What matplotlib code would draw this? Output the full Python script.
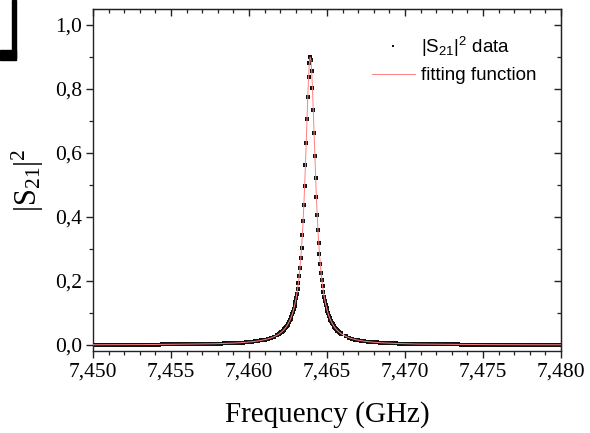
import matplotlib
matplotlib.use("Agg")
import matplotlib.pyplot as plt
from matplotlib.ticker import MultipleLocator, FuncFormatter
from matplotlib.patches import Rectangle

# |S21|^2 transmission data (GHz)
freq_left = [
    7.4500, 7.4502, 7.4504, 7.4506, 7.4508, 7.4510, 7.4512, 7.4514, 7.4516, 7.4518,
    7.4520, 7.4522, 7.4524, 7.4526, 7.4528, 7.4530, 7.4532, 7.4534, 7.4536, 7.4538,
    7.4540, 7.4542, 7.4544, 7.4546, 7.4548, 7.4550, 7.4552, 7.4554, 7.4556, 7.4558,
    7.4560, 7.4562, 7.4564, 7.4566, 7.4568, 7.4570, 7.4572, 7.4574, 7.4576, 7.4578,
    7.4580, 7.4582, 7.4584, 7.4586, 7.4588, 7.4590, 7.4592, 7.4594, 7.4596, 7.4598,
    7.4600, 7.4602, 7.4604, 7.4606, 7.4608, 7.4610, 7.4612, 7.4614, 7.4616, 7.4618,
]
s21_left = [
    0.0007, 0.0008, 0.0008, 0.0008, 0.0008, 0.0009, 0.0009, 0.0009, 0.0009, 0.0010,
    0.0010, 0.0010, 0.0011, 0.0011, 0.0012, 0.0012, 0.0012, 0.0013, 0.0013, 0.0014,
    0.0015, 0.0015, 0.0016, 0.0017, 0.0017, 0.0018, 0.0019, 0.0020, 0.0021, 0.0022,
    0.0023, 0.0024, 0.0025, 0.0027, 0.0028, 0.0030, 0.0032, 0.0034, 0.0036, 0.0038,
    0.0041, 0.0044, 0.0047, 0.0051, 0.0055, 0.0059, 0.0064, 0.0070, 0.0076, 0.0084,
    0.0092, 0.0102, 0.0114, 0.0128, 0.0145, 0.0165, 0.0189, 0.0219, 0.0258, 0.0307,
]
freq_peak = [
    7.46192, 7.46197, 7.46202, 7.46207, 7.46212, 7.46217, 7.46222, 7.46227, 7.46232, 7.46237,
    7.46242, 7.46247, 7.46252, 7.46257, 7.46262, 7.46267, 7.46272, 7.46277, 7.46282, 7.46287,
    7.46292, 7.46297, 7.46302, 7.46307, 7.46312, 7.46317, 7.46322, 7.46327, 7.46332, 7.46337,
    7.46342, 7.46347, 7.46352, 7.46357, 7.46362, 7.46367, 7.46372, 7.46377, 7.46382, 7.46387,
    7.46392, 7.46397, 7.46402, 7.46407, 7.46412, 7.46417, 7.46422, 7.46427, 7.46432, 7.46437,
    7.46442, 7.46447, 7.46452, 7.46457, 7.46462, 7.46467, 7.46472, 7.46477, 7.46482, 7.46487,
    7.46492, 7.46497, 7.46502, 7.46507, 7.46512, 7.46517, 7.46522, 7.46527, 7.46532, 7.46537,
    7.46542, 7.46547, 7.46552, 7.46557, 7.46562, 7.46567, 7.46572, 7.46577, 7.46582, 7.46587,
    7.46592,
]
s21_peak = [
    0.0343, 0.0360, 0.0379, 0.0398, 0.0419, 0.0442, 0.0467, 0.0494, 0.0523, 0.0555,
    0.0590, 0.0628, 0.0670, 0.0717, 0.0767, 0.0824, 0.0887, 0.0956, 0.1034, 0.1122,
    0.1220, 0.1331, 0.1457, 0.1601, 0.1765, 0.1952, 0.2169, 0.2419, 0.2703, 0.3041,
    0.3427, 0.3875, 0.4389, 0.4972, 0.5622, 0.6327, 0.7055, 0.7759, 0.8367, 0.8802,
    0.8994, 0.8911, 0.8566, 0.8018, 0.7343, 0.6618, 0.5899, 0.5225, 0.4614, 0.4072,
    0.3599, 0.3189, 0.2834, 0.2528, 0.2264, 0.2035, 0.1836, 0.1664, 0.1512, 0.1380,
    0.1263, 0.1160, 0.1068, 0.0987, 0.0914, 0.0848, 0.0789, 0.0736, 0.0688, 0.0645,
    0.0605, 0.0569, 0.0536, 0.0505, 0.0477, 0.0452, 0.0428, 0.0406, 0.0386, 0.0367,
    0.0350,
]
freq_right = [
    7.4662, 7.4664, 7.4666, 7.4668, 7.4670, 7.4672, 7.4674, 7.4676, 7.4678, 7.4680,
    7.4682, 7.4684, 7.4686, 7.4688, 7.4690, 7.4692, 7.4694, 7.4696, 7.4698, 7.4700,
    7.4702, 7.4704, 7.4706, 7.4708, 7.4710, 7.4712, 7.4714, 7.4716, 7.4718, 7.4720,
    7.4722, 7.4724, 7.4726, 7.4728, 7.4730, 7.4732, 7.4734, 7.4736, 7.4738, 7.4740,
    7.4742, 7.4744, 7.4746, 7.4748, 7.4750, 7.4752, 7.4754, 7.4756, 7.4758, 7.4760,
    7.4762, 7.4764, 7.4766, 7.4768, 7.4770, 7.4772, 7.4774, 7.4776, 7.4778, 7.4780,
    7.4782, 7.4784, 7.4786, 7.4788, 7.4790, 7.4792, 7.4794, 7.4796, 7.4798, 7.4800,
]
s21_right = [
    0.0271, 0.0230, 0.0198, 0.0171, 0.0150, 0.0133, 0.0118, 0.0106, 0.0095, 0.0086,
    0.0078, 0.0071, 0.0066, 0.0060, 0.0056, 0.0052, 0.0048, 0.0045, 0.0042, 0.0039,
    0.0036, 0.0034, 0.0032, 0.0030, 0.0029, 0.0027, 0.0026, 0.0024, 0.0023, 0.0022,
    0.0021, 0.0020, 0.0019, 0.0018, 0.0017, 0.0017, 0.0016, 0.0015, 0.0015, 0.0014,
    0.0014, 0.0013, 0.0013, 0.0012, 0.0012, 0.0011, 0.0011, 0.0011, 0.0010, 0.0010,
    0.0010, 0.0009, 0.0009, 0.0009, 0.0008, 0.0008, 0.0008, 0.0008, 0.0007, 0.0007,
    0.0007, 0.0007, 0.0007, 0.0007, 0.0006, 0.0006, 0.0006, 0.0006, 0.0006, 0.0006,
]

freq = freq_left + freq_peak + freq_right
s21 = s21_left + s21_peak + s21_right

SERIF = "Liberation Serif"
SANS = "Liberation Sans"
FIT = "#ff8080"

fig = plt.figure(figsize=(5.9, 4.33), dpi=100)
ax = fig.add_axes([0.1576, 0.1885, 0.7932, 0.7907])

ax.plot(freq, s21, "s", ms=2.6, color="#111111", mew=0,
        label=r"$\mathregular{|S_{21}|^2}$ data", zorder=2)
ax.plot(freq, s21, "-", lw=0.7, color=FIT, label="fitting function", zorder=3)

ax.set_xlim(7.450, 7.480)
ax.set_ylim(-0.02, 1.05)
ax.xaxis.set_major_locator(MultipleLocator(0.005))
ax.xaxis.set_minor_locator(MultipleLocator(0.001))
ax.yaxis.set_major_locator(MultipleLocator(0.2))
ax.yaxis.set_minor_locator(MultipleLocator(0.1))
ax.xaxis.set_major_formatter(FuncFormatter(lambda v, p: f"{v:.3f}".replace(".", ",")))
ax.yaxis.set_major_formatter(FuncFormatter(lambda v, p: f"{v:.1f}".replace(".", ",")))

for s in ax.spines.values():
    s.set_linewidth(1.0)
    s.set_color("#222222")
ax.tick_params(which="major", direction="out", length=5, width=1.0, color="#222222",
               labelsize=15.5, pad=3)
ax.tick_params(which="minor", direction="out", length=2.8, width=0.9, color="#222222")
for lab in ax.get_xticklabels() + ax.get_yticklabels():
    lab.set_fontfamily(SERIF)

# mirrored ticks on top / right, pointing inward
top = ax.secondary_xaxis("top")
top.xaxis.set_major_locator(MultipleLocator(0.005))
top.xaxis.set_minor_locator(MultipleLocator(0.001))
top.tick_params(which="both", direction="in", labeltop=False, color="#222222")
top.tick_params(which="major", length=5, width=1.0)
top.tick_params(which="minor", length=2.8, width=0.9)
right = ax.secondary_yaxis("right")
right.yaxis.set_major_locator(MultipleLocator(0.2))
right.yaxis.set_minor_locator(MultipleLocator(0.1))
right.tick_params(which="both", direction="in", labelright=False, color="#222222")
right.tick_params(which="major", length=5, width=1.0)
right.tick_params(which="minor", length=2.8, width=0.9)

ax.set_xlabel("Frequency (GHz)", fontsize=21, fontfamily=SERIF, labelpad=14)
ax.set_ylabel(r"$\mathregular{|S_{21}|^2}$", fontsize=22, fontfamily=SERIF, labelpad=6)

leg = ax.legend(loc="upper left", bbox_to_anchor=(0.56, 0.975), frameon=False,
                prop={"family": SANS, "size": 13.5}, handlelength=2.3,
                handletextpad=0.3, labelspacing=0.45, markerscale=0.6)

# black corner mark left over from the panel frame
fig.patches.append(Rectangle((12 / 590, 1 - 58 / 433), 4 / 590, 58 / 433,
                             transform=fig.transFigure, color="black", zorder=5))
fig.patches.append(Rectangle((0, 1 - 60 / 433), 16 / 590, 10 / 433,
                             transform=fig.transFigure, color="black", zorder=5))

fig.savefig("out.png", dpi=100)
